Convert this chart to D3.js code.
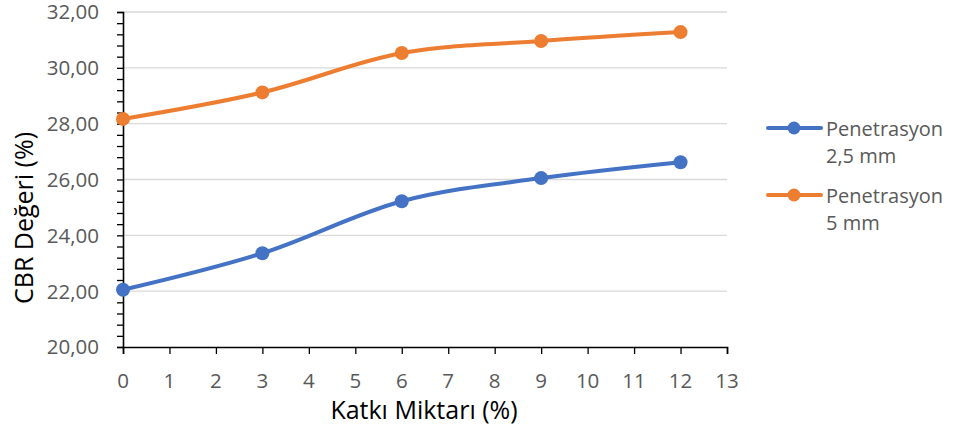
<!DOCTYPE html>
<html>
<head>
<meta charset="utf-8">
<script src="https://cdn.jsdelivr.net/npm/d3@7"></script>
<style>
  body { margin: 0; background: #fff; }
  svg text { font-family: "Open Sans", "Noto Sans", sans-serif; }
</style>
</head>
<body>
<svg id="chart" width="953" height="432"></svg>
<script>
// CBR values by additive amount, two penetration depths
const katki = [0, 3, 6, 9, 12];
const pen25 = [22.05, 23.36, 25.22, 26.05, 26.62];
const pen5 = [28.17, 29.12, 30.53, 30.96, 31.28];
const seriesNames = [["Penetrasyon", "2,5 mm"], ["Penetrasyon", "5 mm"]];
const seriesColors = ["#4472c4", "#ed7d31"];
const xTicks = d3.range(0, 14);
const yTicks = [20, 22, 24, 26, 28, 30, 32];
const yMinorTicks = d3.range(20, 32.001, 0.4);

const svg = d3.select("#chart");
const x = d3.scaleLinear().domain([0, 13]).range([123, 727]);
const y = d3.scaleLinear().domain([20, 32]).range([347, 12]);

// horizontal gridlines
svg.append("g").selectAll("line").data(yTicks.slice(1)).join("line")
  .attr("x1", x(0)).attr("x2", x(13))
  .attr("y1", d => y(d)).attr("y2", d => y(d))
  .attr("stroke", "#d9d9d9").attr("stroke-width", 1.3);

// y axis with major labels and minor ticks
const yAxis = svg.append("g").attr("transform", `translate(${x(0)},0)`)
  .call(d3.axisLeft(y).tickValues(yMinorTicks).tickSize(6).tickFormat(""));
yAxis.select(".domain").attr("stroke", "#000").attr("stroke-width", 1.6);
yAxis.selectAll(".tick line").attr("stroke", "#000").attr("stroke-width", 1.3);
svg.append("g").selectAll("text").data(yTicks).join("text")
  .attr("x", x(0) - 24).attr("y", d => y(d)).attr("dy", "0.36em")
  .attr("text-anchor", "end").attr("fill", "#595959").attr("font-size", 20.5)
  .text(d => d.toFixed(2).replace(".", ","));

// x axis
const xAxis = svg.append("g").attr("transform", `translate(0,${y(20)})`)
  .call(d3.axisBottom(x).tickValues(xTicks).tickSize(7).tickFormat(""));
xAxis.select(".domain").attr("stroke", "#000").attr("stroke-width", 1.6);
xAxis.selectAll(".tick line").attr("stroke", "#000").attr("stroke-width", 1.3);
svg.append("g").selectAll("text").data(xTicks).join("text")
  .attr("x", d => x(d)).attr("y", 388).attr("text-anchor", "middle")
  .attr("fill", "#595959").attr("font-size", 20.5).text(d => d);

// axis titles
svg.append("text").attr("x", 424).attr("y", 419).attr("text-anchor", "middle")
  .attr("font-size", 25).attr("fill", "#000").text("Katkı Miktarı (%)");
svg.append("text").attr("transform", "translate(33,218) rotate(-90)")
  .attr("text-anchor", "middle").attr("font-size", 25).attr("fill", "#000")
  .text("CBR Değeri (%)");

// smoothed series lines with markers
const line = d3.line().x((d, i) => x(katki[i])).y(d => y(d)).curve(d3.curveCardinal.tension(0));
[pen25, pen5].forEach((vals, s) => {
  svg.append("path").datum(vals).attr("d", line)
    .attr("fill", "none").attr("stroke", seriesColors[s]).attr("stroke-width", 4)
    .attr("stroke-linecap", "round");
  svg.append("g").selectAll("circle").data(vals).join("circle")
    .attr("cx", (d, i) => x(katki[i])).attr("cy", d => y(d)).attr("r", 7)
    .attr("fill", seriesColors[s]);
});

// legend
const legend = svg.append("g");
[128, 195].forEach((ly, s) => {
  legend.append("line").attr("x1", 768).attr("x2", 821).attr("y1", ly).attr("y2", ly)
    .attr("stroke", seriesColors[s]).attr("stroke-width", 4).attr("stroke-linecap", "round");
  legend.append("circle").attr("cx", 794).attr("cy", ly).attr("r", 6.5).attr("fill", seriesColors[s]);
  const t = legend.append("text").attr("x", 826).attr("y", ly + 8)
    .attr("font-size", 20).attr("fill", "#595959");
  t.append("tspan").attr("x", 826).text(seriesNames[s][0]);
  t.append("tspan").attr("x", 826).attr("dy", 27).text(seriesNames[s][1]);
});
</script>
</body>
</html>
